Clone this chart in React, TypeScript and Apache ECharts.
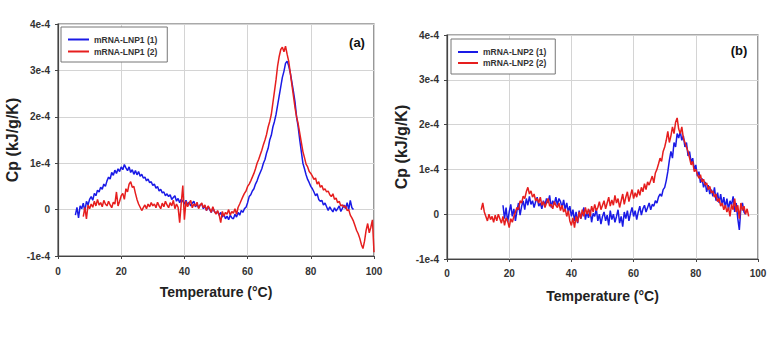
import React, { useEffect, useRef } from "react";
import * as echarts from "echarts";

// Temperature sampling (°C): each series starts at its own temperature, step 0.5 °C
const T_STEP = 0.5;

// Panel (a) – mRNA-LNP1, Cp in units of 1e-6 kJ/g/K
const LNP1_1_START = 5.5;
const LNP1_1 = [
  -12, 5, -18, 8, 2, 14, -4, 18, 10, 22,
  28, 20, 35, 30, 42, 38, 48, 44, 55, 50,
  62, 70, 66, 80, 74, 85, 78, 88, 82, 92,
  86, 97, 90, 84, 92, 80, 86, 76, 84, 75,
  82, 72, 76, 68, 70, 62, 66, 58, 60, 52,
  55, 46, 50, 40, 44, 36, 38, 30, 34, 28,
  32, 22, 26, 30, 18, 24, 15, 22, 18, 12,
  20, 10, 16, 8, 14, 18, 6, 12, 4, 10,
  12, 2, 8, -2, 6, 0, -6, 4, -4, -8,
  -4, -12, -6, -16, -10, -20, -14, -22, -12, -18,
  -20, -10, -16, -6, -12, -2, -6, 2, 5, 15,
  28, 32, 40, 45, 55, 62, 72, 80, 88, 100,
  108, 122, 132, 150, 160, 178, 190, 205, 225, 245,
  265, 285, 298, 315, 320, 310, 295, 275, 255, 232,
  200, 178, 150, 125, 100, 88, 75, 65, 58, 50,
  45, 38, 30, 34, 22, 18, 20, 10, 14, 6,
  -2, 6, 0, -5, 4, -3, 2, 8, -4, 3,
  10, 2, 15, 0, 20, 4, 0,
];

const LNP1_2_START = 8;
const LNP1_2 = [
  -15, 5, -20, 10, 2,
  12, 5, 18, 8, 22, 10, 15, 6, 20, 12,
  8, 18, 10, 4, 16, 12, 38, 8, 18, 30,
  35, 22, 45, 38, 55, 60, 48, 50, 35, 22,
  12, 5, -2, 4, 10, 2, 12, 6, 15, 8,
  12, 4, 16, 8, 2, 14, 6, 18, 10, 4,
  15, 8, 20, 2, 12, 5, -28, 14, 52, -22,
  18, 6, 14, 20, 4, 12, 8, 16, 2, 10,
  14, 4, 10, -2, 8, 2, -6, 6, -4, -10,
  -2, -12, -28, -4, -14, -6, -10, 0, -12, -4,
  -8, 2, -10, 5, 12, 20, 28, 35, 40, 50,
  55, 62, 70, 78, 88, 100, 108, 118, 128, 140,
  150, 162, 178, 190, 205, 230, 255, 280, 310, 330,
  345, 350, 340, 352, 335, 320, 295, 270, 245, 220,
  200, 185, 165, 145, 125, 112, 98, 92, 82, 78,
  72, 65, 68, 55, 60, 48, 52, 42, 45, 38,
  40, 32, 28, 34, 22, 25, 15, 18, 8, 10,
  5, 8, -2, 0, -12, -18, -25, -35, -45, -52,
  -62, -75, -84, -68, -45, -30, -50, -38, -22, -92,
];

// Panel (b) – mRNA-LNP2
const LNP2_1_START = 18;
const LNP2_1 = [
  20, -10, 15, -18, 5,
  22, -5, 12, -15, 8, 25, -2, 18, 30, 10,
  35, 20, 40, 22, 30, 15, 28, 38, 18, 25,
  12, 30, 20, 35, 25, 42, 15, 30, 22, 38,
  20, 35, 28, 15, 32, 10, 25, 5, 18, -5,
  10, -15, 5, -20, 8, -10, 0, 15, -12, 5,
  -8, 10, -18, 2, -5, 12, -15, 0, -22, -5,
  5, -15, -2, -25, 8, -12, 0, -18, -5, 10,
  -20, -5, -28, 5, -10, 8, -15, 2, 15, -5,
  8, -12, 5, 18, -2, 12, 20, 5, 15, 25,
  10, 22, 18, 30, 25, 38, 45, 40, 55, 60,
  75, 95, 120, 140, 125, 160, 150, 180, 170, 185,
  165, 175, 150, 160, 130, 140, 115, 125, 100, 110,
  85, 95, 70, 80, 60, 72, 50, 65, 45, 55,
  40, 60, 30, 48, 25, 45, 20, 38, 15, 35,
  10, 30, 20, 40, 5, 25, -10, -35, 15, 25,
  5, 0,
];

const LNP2_2_START = 11;
const LNP2_2 = [
  10, 25, 5, -5, -15, 0, -12, -5, -18,
  -2, -15, 0, -10, -20, -5, -25, -8, -15, -30,
  -10, -18, -5, 5, 15, 10, 30, 25, 40, 35,
  50, 60, 45, 52, 38, 45, 30, 35, 25, 38,
  20, 28, 15, 25, 35, 18, 22, 12, 28, 20,
  15, 25, 8, 20, 5, 12, -5, 8, -15, -25,
  -8, -30, -5, -18, 5, -10, 10, -5, 15, 0,
  12, -5, 18, 5, 22, 8, 15, 28, 10, 20,
  30, 12, 25, 38, 18, 32, 20, 42, 25, 35,
  15, 30, 45, 22, 38, 50, 28, 42, 55, 35,
  48, 38, 55, 42, 60, 50, 68, 55, 72, 65,
  75, 85, 70, 92, 100, 112, 125, 118, 140, 150,
  165, 185, 160, 175, 195, 180, 205, 215, 190, 180,
  195, 170, 160, 150, 140, 125, 110, 118, 95, 100,
  90, 80, 88, 72, 78, 65, 70, 55, 62, 48,
  52, 38, 45, 28, 35, 18, 25, 10, 20, 5,
  15, -5, 22, 10, 35, 5, 20, -10, 25, 8,
  18, 0, 12, -5,
];

const X_TICKS = { min: 0, max: 100, interval: 20 };
const Y_TICKS = { min: -1e-4, max: 4e-4, interval: 1e-4 };
const NAMES_A = ["mRNA-LNP1 (1)", "mRNA-LNP1 (2)"];
const NAMES_B = ["mRNA-LNP2 (1)", "mRNA-LNP2 (2)"];
const X_TITLE = "Temperature (°C)";
const Y_TITLE = "Cp (kJ/g/K)";

const BLUE = "#1a1ae6";
const RED = "#e61e1e";
const FONT = "'Liberation Sans', Arial, sans-serif";

const toPoints = (start: number, vals: number[]) =>
  vals.map((v, i) => [start + i * T_STEP, v * 1e-6]);

const yFmt = (v: number) => {
  const k = Math.round(v * 1e4);
  return k === 0 ? "0" : `${k}e-4`;
};

function makeX(gridIndex: number, nameGap: number, labelMargin: number) {
  return {
    type: "value",
    gridIndex,
    ...X_TICKS,
    name: X_TITLE,
    nameLocation: "middle",
    nameGap,
    nameTextStyle: { fontFamily: FONT, fontWeight: "bold", fontSize: 14, color: "#222" },
    axisLine: { show: true, onZero: false, lineStyle: { color: "#444", width: 1.2 } },
    axisTick: { show: true, inside: false, length: 3, lineStyle: { color: "#444" } },
    axisLabel: { fontFamily: FONT, fontWeight: "bold", fontSize: 10, color: "#333", margin: labelMargin },
    splitLine: { show: true, lineStyle: { color: "#d4d4d4", width: 1 } },
  };
}

function makeY(gridIndex: number, nameGap: number) {
  return {
    type: "value",
    gridIndex,
    ...Y_TICKS,
    name: Y_TITLE,
    nameLocation: "middle",
    nameGap,
    nameTextStyle: { fontFamily: FONT, fontWeight: "bold", fontSize: 16, color: "#222" },
    axisLine: { show: true, onZero: false, lineStyle: { color: "#444", width: 1.2 } },
    axisTick: { show: true, inside: false, length: 3, lineStyle: { color: "#444" } },
    axisLabel: { fontFamily: FONT, fontWeight: "bold", fontSize: 10, color: "#333", margin: 8, formatter: yFmt },
    splitLine: { show: true, lineStyle: { color: "#d4d4d4", width: 1 } },
  };
}

function makeLegend(names: string[], left: number, top: number, padding: number[], lineHeight: number, itemWidth: number) {
  return {
    data: names,
    orient: "vertical",
    left,
    top,
    padding,
    itemGap: 1,
    itemWidth,
    itemHeight: 2,
    icon: "rect",
    borderColor: "#777",
    borderWidth: 1,
    backgroundColor: "#fff",
    textStyle: { fontFamily: FONT, fontWeight: "bold", fontSize: 8.5, color: "#333", lineHeight },
  };
}

function makeSeries(name: string, data: number[][], color: string, idx: number) {
  return {
    type: "line",
    name,
    data,
    xAxisIndex: idx,
    yAxisIndex: idx,
    showSymbol: false,
    symbol: "none",
    color,
    itemStyle: { color },
    lineStyle: { color, width: 1.5 },
  };
}

export default function App() {
  const ref = useRef<HTMLDivElement>(null);
  useEffect(() => {
    if (!ref.current) return;
    const chart = echarts.init(ref.current, null, { renderer: "svg" });
    chart.setOption({
      animation: false,
      backgroundColor: "#fff",
      grid: [
        { left: 58, top: 24, width: 316, height: 232, show: true, borderColor: "#555", borderWidth: 1.2, backgroundColor: "transparent" },
        { left: 447, top: 35, width: 311, height: 224, show: true, borderColor: "#555", borderWidth: 1.2, backgroundColor: "transparent" },
      ],
      xAxis: [makeX(0, 29, 10), makeX(1, 30, 9)],
      yAxis: [makeY(0, 38), makeY(1, 38)],
      legend: [
        makeLegend(NAMES_A, 61, 27, [7, 10, 5, 7], 11, 21),
        makeLegend(NAMES_B, 451, 39, [8, 9, 6, 7], 10, 20),
      ],
      series: [
        makeSeries(NAMES_A[0], toPoints(LNP1_1_START, LNP1_1), BLUE, 0),
        makeSeries(NAMES_A[1], toPoints(LNP1_2_START, LNP1_2), RED, 0),
        makeSeries(NAMES_B[0], toPoints(LNP2_1_START, LNP2_1), BLUE, 1),
        makeSeries(NAMES_B[1], toPoints(LNP2_2_START, LNP2_2), RED, 1),
      ],
      graphic: [
        { type: "text", x: 357, y: 42, style: { text: "(a)", font: `bold 13px ${FONT}`, fill: "#111", align: "center", verticalAlign: "middle" } },
        { type: "text", x: 739, y: 50, style: { text: "(b)", font: `bold 13px ${FONT}`, fill: "#111", align: "center", verticalAlign: "middle" } },
      ],
    });
    return () => chart.dispose();
  }, []);
  return <div ref={ref} style={{ position: "absolute", left: 0, top: 0, width: 780, height: 352 }} />;
}
